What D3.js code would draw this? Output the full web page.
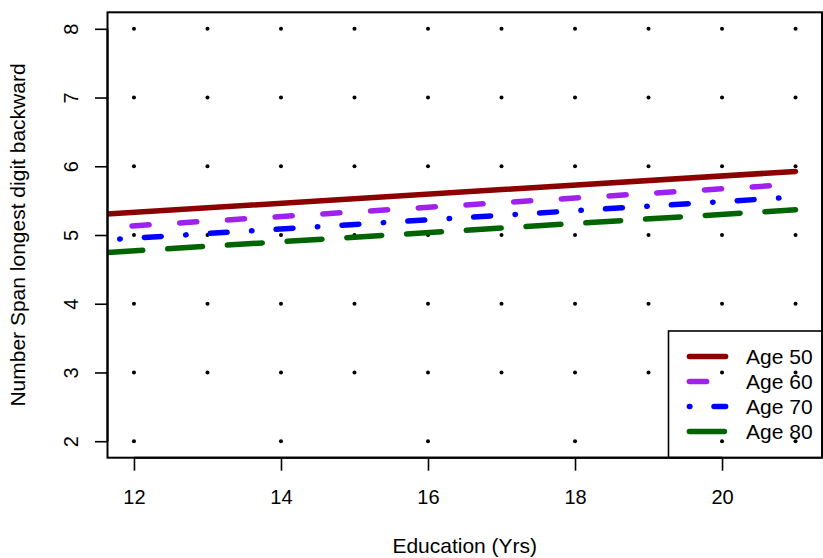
<!DOCTYPE html>
<html>
<head>
<meta charset="utf-8">
<script src="https://cdn.jsdelivr.net/npm/d3@7"></script>
<style>
  html, body { margin: 0; padding: 0; background: #fff; }
  svg { display: block; }
  text { font-family: "Liberation Sans", Arial, Helvetica, sans-serif; fill: #000; }
</style>
</head>
<body>
<script>
// ---- data ----
const seriesNames = ["Age 50", "Age 60", "Age 70", "Age 80"];
const seriesColors = ["#8B0000", "#A020F0", "#0000FF", "#006400"];
const lineEducation = [11.62, 21];
const age50 = [5.305, 5.925];
const age60 = [5.108, 5.739];
const age70 = [4.930, 5.552];
const age80 = [4.744, 5.367];
const gridEducation = [12, 13, 14, 15, 16, 17, 18, 19, 20, 21];
const gridSpan = [3, 4, 5, 6, 7, 8];
const span2Education = [12, 14, 16, 18, 20, 21];
const xTicks = [12, 14, 16, 18, 20];
const yTicks = [2, 3, 4, 5, 6, 7, 8];
const xTitle = "Education (Yrs)";
const yTitle = "Number Span longest digit backward";

// ---- layout ----
const W = 823, H = 558;
const L = 107.5, R = 822, T = 12.3, B = 457.7;
const svg = d3.select("body").append("svg").attr("width", W).attr("height", H);

const x = d3.scaleLinear().domain([11.64, 21.36]).range([L, R]);
const y = d3.scaleLinear().domain([1.76, 8.24]).range([B, T]);

svg.append("clipPath").attr("id", "plotclip")
  .append("rect").attr("x", L).attr("y", T).attr("width", R - L).attr("height", B - T);

// dots
const points = [];
gridSpan.forEach(s => gridEducation.forEach(e => points.push([e, s])));
span2Education.forEach(e => points.push([e, 2]));
svg.append("g").selectAll("circle").data(points).join("circle")
  .attr("cx", d => x(d[0])).attr("cy", d => y(d[1])).attr("r", 2).attr("fill", "#000");

// lines
const seriesValues = [age50, age60, age70, age80];
const dashes = [null, "17.2,30.6", "0.5,24.1,17,24.4", "35,24.85"];
const offsets = [0, 21.8, 52.25, 58];
const lineGen = d3.line().x(d => x(d[0])).y(d => y(d[1]));
const lg = svg.append("g").attr("clip-path", "url(#plotclip)");
seriesValues.forEach((vals, i) => {
  const p = lg.append("path")
    .attr("d", lineGen(lineEducation.map((e, j) => [e, vals[j]])))
    .attr("fill", "none").attr("stroke", seriesColors[i])
    .attr("stroke-width", 5.5).attr("stroke-linecap", "round");
  if (dashes[i]) p.attr("stroke-dasharray", dashes[i]).attr("stroke-dashoffset", offsets[i]);
});

// box
svg.append("rect").attr("x", L).attr("y", T).attr("width", R - L).attr("height", B - T)
  .attr("fill", "none").attr("stroke", "#000").attr("stroke-width", 2);

// x axis
const xa = svg.append("g").attr("transform", `translate(0,${B})`)
  .call(d3.axisBottom(x).tickValues(xTicks).tickSize(13).tickPadding(19).tickFormat(d3.format("d")));
xa.select(".domain").attr("stroke-width", 2).attr("d", `M${x(12)},0H${x(20)}`);
xa.selectAll(".tick line").attr("stroke", "#000").attr("stroke-width", 1.6);
xa.selectAll(".tick text").attr("font-size", 20).attr("font-family", null).attr("fill", "#000");

// y axis
const ya = svg.append("g").attr("transform", `translate(${L},0)`)
  .call(d3.axisLeft(y).tickValues(yTicks).tickSize(12.5).tickFormat(d3.format("d")));
ya.select(".domain").attr("stroke-width", 2).attr("d", `M0,${y(2)}V${y(8)}`);
ya.selectAll(".tick line").attr("stroke", "#000").attr("stroke-width", 1.6);
ya.selectAll(".tick text")
  .attr("font-size", 20).attr("font-family", null).attr("fill", "#000")
  .attr("transform", "rotate(-90)")
  .attr("x", 0).attr("y", -29.2).attr("dy", null)
  .attr("text-anchor", "middle");

// titles
svg.append("text").attr("x", (L + R) / 2).attr("y", 553)
  .attr("text-anchor", "middle").attr("font-size", 21).text(xTitle);
svg.append("text").attr("transform", `translate(25,${(T + B) / 2}) rotate(-90)`)
  .attr("text-anchor", "middle").attr("font-size", 21).text(yTitle);

// legend
const legX0 = 668.5, legY0 = 331;
svg.append("rect").attr("x", legX0).attr("y", legY0).attr("width", R - legX0).attr("height", B - legY0)
  .attr("fill", "none").attr("stroke", "#000").attr("stroke-width", 1.6);
seriesNames.forEach((name, i) => {
  const ly = 356.5 + i * 25;
  const p = svg.append("path").attr("d", `M689.4,${ly}H725.6`)
    .attr("fill", "none").attr("stroke", seriesColors[i])
    .attr("stroke-width", 5.5).attr("stroke-linecap", "round");
  if (dashes[i]) p.attr("stroke-dasharray", dashes[i]);
  svg.append("text").attr("x", 746).attr("y", ly + 7.8).attr("font-size", 21).text(name);
});
</script>
</body>
</html>
